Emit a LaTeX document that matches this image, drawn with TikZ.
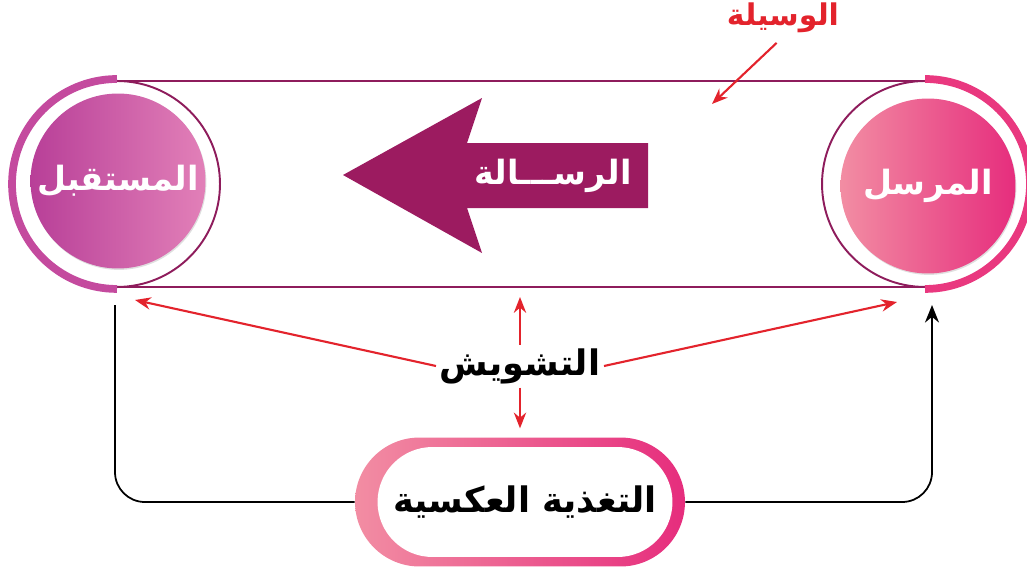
\documentclass[tikz,border=0pt]{standalone}
\usepackage{fontspec}
\newfontfamily\arabicfont[Script=Arabic]{DejaVu Sans}
\TeXXeTstate=1
\usepackage{tikz}
\usetikzlibrary{positioning,arrows.meta,shadows}
\definecolor{MsgPurple}{RGB}{156,27,96}
\definecolor{RingLine}{RGB}{142,28,92}
\definecolor{NoiseRed}{RGB}{227,35,44}
\definecolor{RecvDark}{RGB}{184,63,152}
\definecolor{RecvLite}{RGB}{226,128,184}
\definecolor{RecvBand}{RGB}{196,74,158}
\definecolor{SendLite}{RGB}{242,141,163}
\definecolor{SendDark}{RGB}{230,45,125}
\definecolor{SendBand}{RGB}{233,56,127}
\newcommand\artext[1]{\beginR #1\endR}

\begin{document}
\begin{tikzpicture}[x=0.02cm, y=-0.02cm,
  every node/.style={font=\arabicfont\bfseries, align=center, inner sep=2pt},
  party/.style={circle, minimum size=3.5cm, text=white, font=\arabicfont\bfseries\fontsize{19pt}{22pt}\selectfont,
    drop shadow={opacity=0.25, shadow xshift=0.5pt, shadow yshift=-0.8pt}},
  band/.style={line width=4.4pt},
  ringline/.style={draw=RingLine, line width=1.1pt},
  redarrow/.style={draw=NoiseRed, line width=1.2pt, -{Stealth[length=9pt, width=7pt]}},
  fbline/.style={draw=black, line width=1pt, rounded corners=17pt},
  pillout/.style={minimum width=6.6cm, minimum height=2.58cm, rounded corners=1.29cm, left color=SendLite, right color=SendDark},
  pillin/.style={fill=white, minimum width=5.9cm, minimum height=2.2cm, rounded corners=1.1cm,
    font=\arabicfont\bfseries\fontsize{20pt}{24pt}\selectfont}
]
\useasboundingbox (0,0) rectangle (1027,568);

% medium box
\draw[ringline] (117,81) -- (925,81);
\draw[ringline] (117,287) -- (925,287);
\draw[ringline] (117,81) arc[start angle=90, end angle=-90, radius=2.06cm];
\draw[ringline] (925,81) arc[start angle=90, end angle=270, radius=2.06cm];
\draw[band, draw=RecvBand] (117,79) arc[start angle=90, end angle=270, radius=2.1cm];
\draw[band, draw=SendBand] (925,79) arc[start angle=90, end angle=-90, radius=2.1cm];

% receiver and sender
\node[party, left color=RecvDark, right color=RecvLite] (recv) at (118,181) {\artext{المستقبل}};
\node[party, left color=SendLite, right color=SendDark] (send) at (928,186) {\artext{المرسل}};

% message arrow
\fill[MsgPurple] (343,175) -- (482,98) -- (467,143) -- (648,143) -- (648,208)
  -- (467,208) -- (482,253) -- cycle;
\node[text=white, font=\arabicfont\bfseries\fontsize{19pt}{22pt}\selectfont] (msg) at (553,176) {\artext{الرســـالة}};

% medium label
\node[text=NoiseRed, font=\arabicfont\bfseries\fontsize{17pt}{20pt}\selectfont] (medium) at (783,18) {\artext{الوسيلة}};
\coordinate (mTip) at (712,104);
\draw[redarrow, shorten <=5pt] (medium.south) -- (mTip);

% feedback
\node[pillout] (fbout) at (520,502) {};
\node[pillin] (fb) at (525,502) {\artext{التغذية العكسية}};
\coordinate (fbL) at (115,305);
\coordinate (fbR) at (932,305);
\draw[fbline] (fbL) |- (fbout.west);
\draw[fbline, -{Stealth[length=10pt, width=8pt]}] (fbout.east) -| (fbR);

% noise
\node[font=\arabicfont\bfseries\fontsize{20pt}{24pt}\selectfont] (noise) at (520,366) {\artext{التشويش}};
\coordinate (nL) at (135,300);
\coordinate (nR) at (897,302);
\coordinate (nU) at (520,297);
\draw[redarrow] (noise.west) -- (nL);
\draw[redarrow] (noise.east) -- (nR);
\draw[redarrow] (noise.north) -- (nU);
\draw[redarrow, shorten >=5pt] (noise.south) -- (fbout.north);
\end{tikzpicture}
\end{document}
